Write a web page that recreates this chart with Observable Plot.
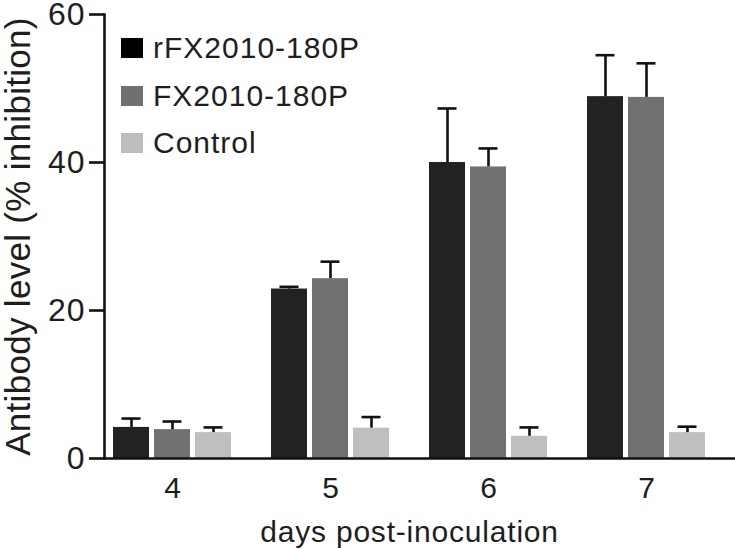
<!DOCTYPE html>
<html>
<head>
<meta charset="utf-8">
<script src="https://cdn.jsdelivr.net/npm/d3@7"></script>
<script src="https://cdn.jsdelivr.net/npm/@observablehq/plot@0.6"></script>
<style>
  html, body { margin: 0; padding: 0; background: #fff; }
  #wrap { position: relative; width: 735px; height: 549px; font-family: "Liberation Sans", Arial, Helvetica, sans-serif; }
  #legend { position: absolute; left: 121px; top: 38px; }
  .item { display: flex; align-items: center; height: 20px; margin-bottom: 27.5px; font-size: 30px; letter-spacing: 1px; color: #1e1e1e; white-space: nowrap; }
  .sw { width: 22px; height: 20px; margin-right: 10px; flex: none; }
  g[aria-label="y-axis tick label"] text { letter-spacing: 1px; }
  g[aria-label="fx-axis label"] text { letter-spacing: 0.8px; }
  g[aria-label="y-axis label"] text { letter-spacing: 0.3px; }
</style>
</head>
<body>
<div id="wrap"></div>
<script>
const days = ["4", "5", "6", "7"];
const series = ["rFX2010-180P", "FX2010-180P", "Control"];
const rFXMean = [4.2, 22.9, 40.0, 48.9];
const rFXErr  = [1.2, 0.3, 7.3, 5.6];
const fxMean  = [3.9, 24.3, 39.4, 48.8];
const fxErr   = [1.1, 2.3, 2.5, 4.6];
const ctrlMean = [3.5, 4.1, 3.0, 3.5];
const ctrlErr  = [0.7, 1.5, 1.2, 0.8];
const barColors = ["#222222", "#717171", "#bfbfbf"];
const legendColors = ["#000000", "#707070", "#bdbdbd"];
const yTicks = [0, 20, 40, 60];

const means = [rFXMean, fxMean, ctrlMean];
const errs = [rFXErr, fxErr, ctrlErr];
const data = [];
days.forEach((d, i) => {
  series.forEach((s, j) => {
    data.push({day: d, series: s, value: means[j][i], hi: means[j][i] + errs[j][i]});
  });
});

const font = "'Liberation Sans', Arial, Helvetica, sans-serif";
const chart = Plot.plot({
  width: 735,
  height: 549,
  marginLeft: 104,
  marginRight: 18,
  marginTop: 14,
  marginBottom: 91,
  style: {fontFamily: font, fontSize: "30px", color: "#1e1e1e", background: "#fff", overflow: "visible"},
  fx: {domain: days, paddingInner: 0.137, paddingOuter: 0, align: 0, label: "days post-inoculation"},
  x: {domain: series, paddingInner: 0.12, paddingOuter: 0.19, axis: null},
  y: {domain: [0, 60]},
  color: {domain: series, range: barColors},
  marks: [
    Plot.barY(data, {fx: "day", x: "series", y: "value", fill: "series"}),
    Plot.ruleX(data, {fx: "day", x: "series", y1: "value", y2: "hi", stroke: "#111", strokeWidth: 2.6}),
    Plot.tickY(data, {fx: "day", x: "series", y: "hi", stroke: "#111", strokeWidth: 2.6, insetLeft: 8.5, insetRight: 8.5}),
    Plot.ruleY([0], {stroke: "#111", strokeWidth: 2.6, insetRight: -22}),
    Plot.frame({anchor: "left", facetAnchor: "left", stroke: "#111", strokeWidth: 2.6}),
    Plot.axisY({ticks: yTicks, tickSize: 15, tickPadding: 4, fontSize: 32, strokeWidth: 2.6, stroke: "#111",
      label: "Antibody level (% inhibition)", labelAnchor: "center", labelArrow: "none", labelOffset: 99}),
    Plot.axisFx({anchor: "bottom", tickSize: 0, tickPadding: 18, fontSize: 30,
      label: "days post-inoculation", labelAnchor: "center", labelArrow: "none", labelOffset: 83})
  ]
});

// y-axis title is larger than the other texts
chart.querySelectorAll('g[aria-label="y-axis label"] text').forEach(t => t.setAttribute("font-size", 35));

const wrap = document.getElementById("wrap");
wrap.appendChild(chart);
const legend = document.createElement("div");
legend.id = "legend";
series.forEach((s, j) => {
  const it = document.createElement("div");
  it.className = "item";
  const sw = document.createElement("div");
  sw.className = "sw";
  sw.style.background = legendColors[j];
  const t = document.createElement("span");
  t.textContent = s;
  it.appendChild(sw);
  it.appendChild(t);
  legend.appendChild(it);
});
wrap.appendChild(legend);
</script>
</body>
</html>
